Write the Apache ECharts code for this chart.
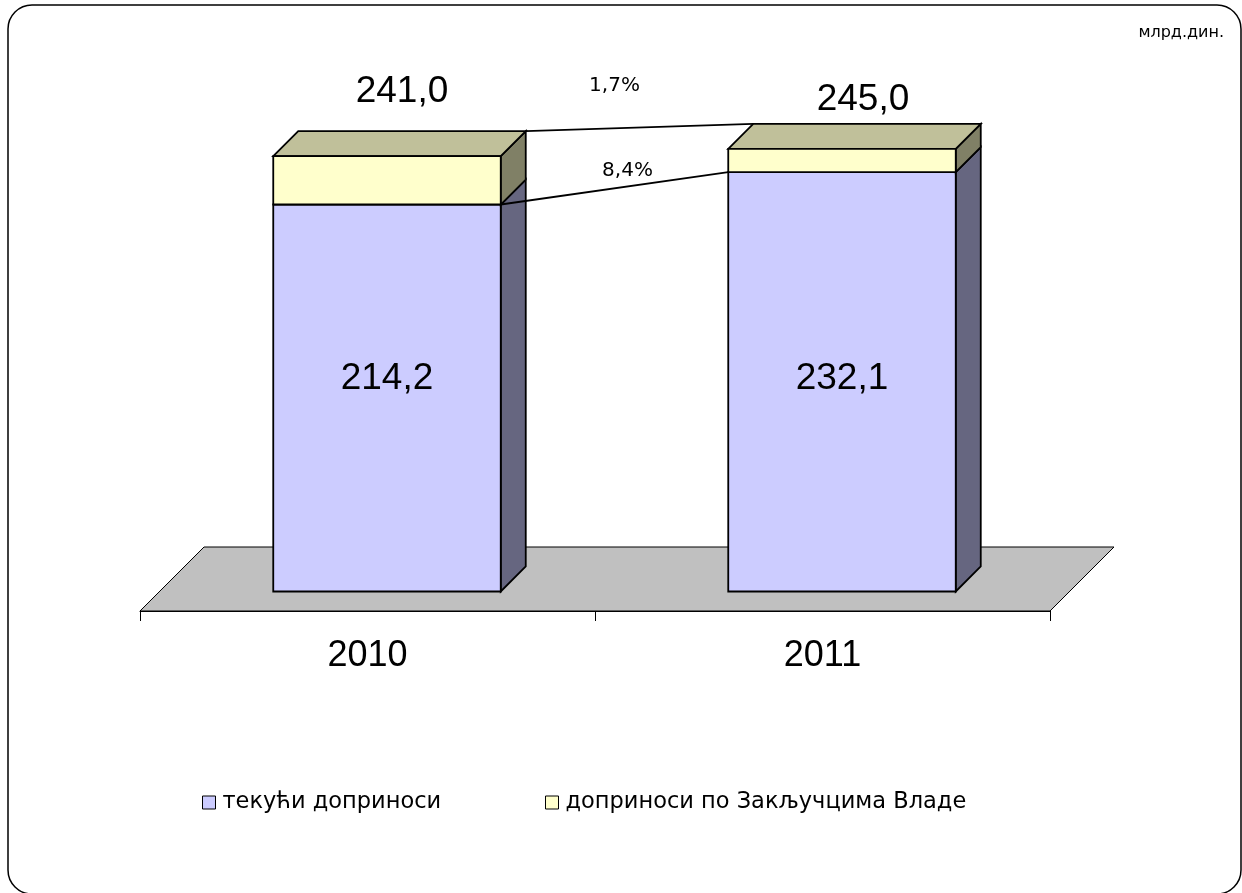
<!DOCTYPE html>
<html>
<head>
<meta charset="utf-8">
<script src="https://cdn.jsdelivr.net/npm/echarts@6/dist/echarts.min.js"></script>
<style>
  html, body { margin: 0; padding: 0; background: #fff; }
  #main { width: 1242px; height: 893px; }
</style>
</head>
<body>
<div id="main"></div>
<script>
// data, млрд.дин.
var years = ['2010', '2011'];
var tekuci = [214.2, 232.1];      // текући доприноси
var zakljucci = [26.8, 12.9];     // доприноси по Закључцима Владе
var totals = [241.0, 245.0];

// layout bits for the fake 3d look
var SHIFT = 19.5;   // bars sit half-way into the floor
var DEPTH = 25;     // bar depth
var FLOOR = 64;     // floor depth
var BAR_RATIO = 0.5;
var totalLabelOff = [[15, -64], [21, -49]];
var innerLabelDy = [-19, -3];

function fmt(v) {
  return v.toFixed(1).replace('.', ',');
}

var myChart = echarts.init(document.getElementById('main'));

function barGeom(api, cat, base, top) {
  var pb = api.coord([cat, base]);
  var pt = api.coord([cat, top]);
  var bw = api.size([1, 0])[0] * BAR_RATIO;
  var x0 = pb[0] - bw / 2 + SHIFT;
  return { x0: x0, x1: x0 + bw, yb: pb[1] - SHIFT, yt: pt[1] - SHIFT, cx: x0 + bw / 2 };
}

function makeBar(colors, isTop) {
  return function (params, api) {
    var cat = api.value(0), base = api.value(1), top = api.value(2);
    var g = barGeom(api, cat, base, top);
    var st = { stroke: '#000', lineWidth: 1.8 };
    var kids = [];
    kids.push({
      type: 'polygon',
      shape: { points: [[g.x1, g.yt], [g.x1 + DEPTH, g.yt - DEPTH], [g.x1 + DEPTH, g.yb - DEPTH], [g.x1, g.yb]] },
      style: Object.assign({ fill: colors.side }, st)
    });
    if (isTop) {
      kids.push({
        type: 'polygon',
        shape: { points: [[g.x0, g.yt], [g.x0 + DEPTH, g.yt - DEPTH], [g.x1 + DEPTH, g.yt - DEPTH], [g.x1, g.yt]] },
        style: Object.assign({ fill: colors.top }, st)
      });
    }
    kids.push({
      type: 'rect',
      shape: { x: g.x0, y: g.yt, width: g.x1 - g.x0, height: g.yb - g.yt },
      style: Object.assign({ fill: colors.front }, st)
    });
    if (isTop) {
      var off = totalLabelOff[params.dataIndex];
      kids.push({
        type: 'text',
        style: {
          text: fmt(totals[params.dataIndex]),
          x: g.cx + off[0], y: g.yt + off[1],
          align: 'center', verticalAlign: 'middle',
          font: '37px "Liberation Sans", Arial, sans-serif', fill: '#000'
        }
      });
    } else {
      kids.push({
        type: 'text',
        style: {
          text: fmt(top - base),
          x: g.cx, y: (g.yt + g.yb) / 2 + innerLabelDy[params.dataIndex],
          align: 'center', verticalAlign: 'middle',
          font: '37px "Liberation Sans", Arial, sans-serif', fill: '#000'
        }
      });
    }
    return { type: 'group', children: kids };
  };
}

var blueData = years.map(function (y, i) { return [i, 0, tekuci[i]]; });
var yellowData = years.map(function (y, i) { return [i, tekuci[i], tekuci[i] + zakljucci[i]]; });

var pctFont = '20px "DejaVu Sans", Verdana, sans-serif';

option = {
  animation: false,
  title: {
    text: 'млрд.дин.',
    right: 13, top: 20,
    textStyle: { fontFamily: 'DejaVu Sans', fontSize: 16, fontWeight: 'normal', color: '#000' }
  },
  graphic: [{
    type: 'rect',
    shape: { x: 8, y: 5, width: 1233, height: 889, r: 24 },
    style: { fill: 'none', stroke: '#000', lineWidth: 1.5 },
    silent: true
  }],
  legend: [{
    data: ['текући доприноси'],
    left: 197, top: 786,
    icon: 'rect', itemWidth: 13, itemHeight: 13,
    itemStyle: { borderColor: '#000', borderWidth: 1 },
    textStyle: { fontFamily: 'DejaVu Sans', fontSize: 22.5, color: '#000', padding: [0, 0, 0, 2] }
  }, {
    data: ['доприноси по Закључцима Владе'],
    left: 540, top: 786,
    icon: 'rect', itemWidth: 13, itemHeight: 13,
    itemStyle: { borderColor: '#000', borderWidth: 1 },
    textStyle: { fontFamily: 'DejaVu Sans', fontSize: 22.5, color: '#000', padding: [0, 0, 0, 2] }
  }],
  grid: { left: 140, right: 192, top: 69, bottom: 282 },
  xAxis: {
    type: 'category',
    data: years,
    z: 5,
    axisLine: { show: true, lineStyle: { color: '#000', width: 1 } },
    axisTick: { show: true, length: 10, lineStyle: { color: '#000', width: 1 } },
    axisLabel: { fontFamily: 'Liberation Sans', fontSize: 36, color: '#000', margin: 27 }
  },
  yAxis: { type: 'value', min: 0, max: 300, show: false },
  series: [{
    name: 'floor',
    type: 'custom',
    silent: true,
    data: [[0, 0]],
    renderItem: function (params, api) {
      var c = params.coordSys;
      var yb = c.y + c.height;
      return {
        type: 'polygon',
        shape: { points: [[c.x, yb], [c.x + c.width, yb], [c.x + c.width + FLOOR, yb - FLOOR], [c.x + FLOOR, yb - FLOOR]] },
        style: { fill: '#C0C0C0', stroke: '#000', lineWidth: 1 }
      };
    }
  }, {
    name: 'текући доприноси',
    type: 'custom',
    itemStyle: { color: '#CCCCFF' },
    data: blueData,
    renderItem: makeBar({ front: '#CCCCFF', side: '#666680', top: '#9999C0' }, false)
  }, {
    name: 'доприноси по Закључцима Владе',
    type: 'custom',
    itemStyle: { color: '#FFFFCC' },
    data: yellowData,
    renderItem: makeBar({ front: '#FFFFCC', side: '#808066', top: '#C0C09A' }, true)
  }, {
    name: 'connectors',
    type: 'custom',
    silent: true,
    data: [[0, 0]],
    renderItem: function (params, api) {
      var a = barGeom(api, 0, 0, totals[0]);
      var b = barGeom(api, 1, 0, totals[1]);
      var ab = barGeom(api, 0, 0, tekuci[0]);
      var bb = barGeom(api, 1, 0, tekuci[1]);
      var gTot = (totals[1] / totals[0] - 1) * 100;
      var gCur = (tekuci[1] / tekuci[0] - 1) * 100;
      var up = [[a.x1 + DEPTH, a.yt - DEPTH], [b.x0 + DEPTH, b.yt - DEPTH]];
      var lo = [[ab.x1, ab.yt], [bb.x0, bb.yt]];
      return {
        type: 'group',
        children: [{
          type: 'line',
          shape: { x1: up[0][0], y1: up[0][1], x2: up[1][0], y2: up[1][1] },
          style: { stroke: '#000', lineWidth: 1.8 }
        }, {
          type: 'line',
          shape: { x1: lo[0][0], y1: lo[0][1], x2: lo[1][0], y2: lo[1][1] },
          style: { stroke: '#000', lineWidth: 1.8 }
        }, {
          type: 'text',
          style: {
            text: fmt(gTot) + '%', x: (up[0][0] + up[1][0]) / 2 - 25, y: (up[0][1] + up[1][1]) / 2 - 42,
            align: 'center', verticalAlign: 'middle', font: pctFont, fill: '#000'
          }
        }, {
          type: 'text',
          style: {
            text: fmt(gCur) + '%', x: (lo[0][0] + lo[1][0]) / 2 + 13, y: (lo[0][1] + lo[1][1]) / 2 - 18,
            align: 'center', verticalAlign: 'middle', font: pctFont, fill: '#000'
          }
        }]
      };
    }
  }]
};

myChart.setOption(option);
</script>
</body>
</html>
